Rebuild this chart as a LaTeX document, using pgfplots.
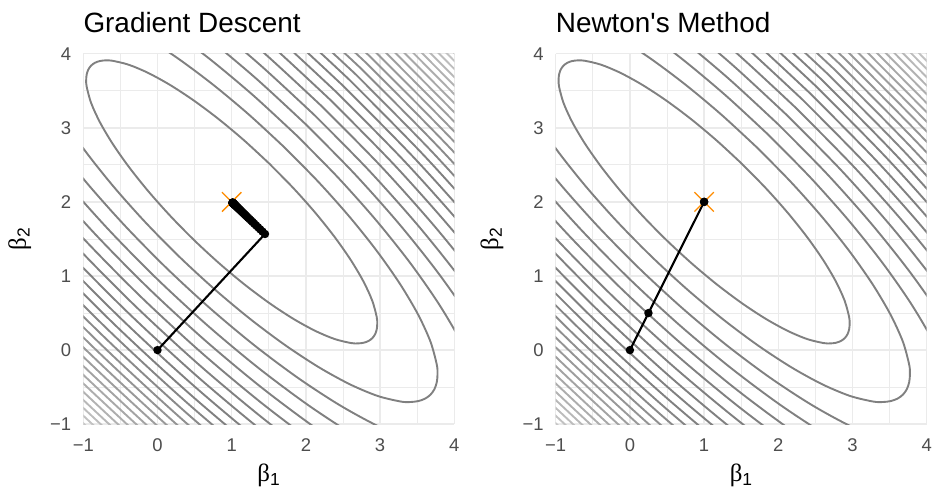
\documentclass[border=0pt]{standalone}
\usepackage{fontspec}
\setmainfont{Liberation Sans}
\newfontfamily\titlefont{Liberation Sans}
\newfontfamily\seriffont{Liberation Serif}
\usepackage{pgfplots}
\usepackage{pgfplotstable}
\pgfplotsset{compat=1.18}
\definecolor{tickgray}{HTML}{4D4D4D}
\definecolor{gridgray}{HTML}{EBEBEB}
\definecolor{xorange}{HTML}{FF8C00}

% level-1 contour of the quadratic, offsets from the minimum (1,2)
\pgfplotstableread{
dx dy
0.5035 0.5193
0.1667 0.8305
-0.1753 1.1167
-0.5119 1.3688
-0.8329 1.5794
-1.1286 1.7419
-1.3900 1.8516
-1.6093 1.9050
-1.7009 1.9099
-1.7796 1.9005
-1.8447 1.8765
-1.8958 1.8382
-1.9325 1.7859
-1.9544 1.7201
-1.9615 1.6411
-1.9537 1.5498
-1.8936 1.3322
-1.7758 1.0743
-1.6043 0.7838
-1.3839 0.4694
-1.1215 0.1407
-0.8249 -0.1923
-0.5035 -0.5193
-0.1667 -0.8305
0.1753 -1.1167
0.5119 -1.3688
0.8329 -1.5794
1.1286 -1.7419
1.3900 -1.8516
1.6093 -1.9050
1.7009 -1.9099
1.7796 -1.9005
1.8447 -1.8765
1.8958 -1.8382
1.9325 -1.7859
1.9544 -1.7201
1.9615 -1.6411
1.9537 -1.5498
1.8936 -1.3322
1.7758 -1.0743
1.6043 -0.7838
1.3839 -0.4694
1.1215 -0.1407
0.8249 0.1923
0.5035 0.5193
}\unitell

\newcommand\cont[2]{\addplot[draw=black!#2, line width=1.9bp, smooth, no markers, forget plot] table[x expr={1+#1*\thisrow{dx}}, y expr={2+#1*\thisrow{dy}}] {\unitell};}
\newcommand\allcont{%
\cont{1}{50}\cont{1.4142}{50}\cont{1.7321}{50}\cont{2}{50}\cont{2.2361}{50}%
\cont{2.4495}{50}\cont{2.6458}{50}\cont{2.8284}{50}\cont{3}{50}\cont{3.1623}{50}%
\cont{3.3166}{48}\cont{3.4641}{46}\cont{3.6056}{44}\cont{3.7417}{42}\cont{3.8730}{40}%
\cont{4}{38}\cont{4.1231}{36}\cont{4.2426}{34}\cont{4.3589}{32}\cont{4.4721}{30}%
\cont{4.5826}{28}\cont{4.6904}{26}\cont{4.7958}{24}\cont{4.8990}{22}}

\pgfplotsset{panel/.style={
  scale only axis, width=371bp, height=370.5bp,
  xmin=-1, xmax=4, ymin=-1, ymax=4,
  xtick={-1,0,1,2,3,4}, ytick={-1,0,1,2,3,4},
  xticklabels={−1,0,1,2,3,4}, yticklabels={−1,0,1,2,3,4},
  minor tick num=1,
  grid=both,
  major grid style={gridgray, line width=1.5bp},
  minor grid style={gridgray, line width=0.8bp},
  major tick length=0pt, minor tick length=0pt,
  axis line style={draw=none},
  tick label style={font=\fontsize{18.5}{18.5}\selectfont, text=tickgray},
  xticklabel style={anchor=north, inner sep=0pt, yshift=-14.5bp},
  yticklabel style={anchor=east, inner sep=0pt, xshift=-12bp},
}}

\begin{document}
\begin{tikzpicture}
\path[use as bounding box] (0bp,0bp) rectangle (936bp,491bp);

\begin{axis}[panel, at={(83.3bp,66.8bp)}, anchor=south west]
\allcont
\addplot[only marks, mark=x, mark size=13.7bp, color=xorange, mark options={line width=1.3bp}] coordinates {(1,2)};
\addplot[black, line width=2.1bp, mark=*, mark size=3.1bp] coordinates {
(0,0) (1.4485,1.5668) (1.4149,1.5993) (1.3837,1.6294) (1.3550,1.6571) (1.3283,1.6829)
(1.3037,1.7066) (1.2809,1.7286) (1.2599,1.7490) (1.2404,1.7678) (1.2224,1.7852)
(1.2057,1.8013) (1.1903,1.8162) (1.1760,1.8300) (1.1628,1.8427) (1.1506,1.8545)
(1.1393,1.8654) (1.1289,1.8755) (1.1192,1.8849) (1.1102,1.8935) (1.1020,1.9015)
(1.0943,1.9089) (1.0873,1.9157) (1.0807,1.9220) (1.0747,1.9279) (1.0691,1.9333)
(1.0639,1.9383) (1.0591,1.9429) (1.0547,1.9472) (1.0505,1.9512) (1.0468,1.9548)
(1.0433,1.9582) (1.0400,1.9614) (1.0370,1.9643) (1.0343,1.9669) (1.0317,1.9694)
(1.0293,1.9717) (1.0271,1.9738) (1.0251,1.9758) (1.0232,1.9776) (1.0214,1.9793)
(1.0198,1.9809) (1.0183,1.9823) (1.0170,1.9836) (1.0157,1.9848) (1.0145,1.9860)
(1.0134,1.9870) (1.0124,1.9880) (1.0115,1.9889) (1.0106,1.9897) (1.0098,1.9905)
};
\end{axis}

\begin{axis}[panel, at={(555.7bp,66.8bp)}, anchor=south west]
\allcont
\addplot[only marks, mark=x, mark size=13.7bp, color=xorange, mark options={line width=1.3bp}] coordinates {(1,2)};
\addplot[black, line width=2.1bp, mark=*, mark size=3.1bp] coordinates {
(0,0) (0.25,0.5) (1,2) (1,2)
};
\end{axis}

\node[anchor=base west, inner sep=0pt, font=\titlefont\fontsize{28}{28}\selectfont] at (83.3bp,458.3bp) {Gradient Descent};
\node[anchor=base west, inner sep=0pt, font=\titlefont\fontsize{28}{28}\selectfont] at (555.7bp,458.3bp) {Newton's Method};

\node[anchor=base, inner sep=0pt, font=\fontsize{25}{25}\selectfont] at (268.8bp,9.5bp) {{\seriffont β}\textsubscript{1}};
\node[anchor=base, inner sep=0pt, font=\fontsize{25}{25}\selectfont] at (741.2bp,9.5bp) {{\seriffont β}\textsubscript{1}};
\node[anchor=base, inner sep=0pt, rotate=90, font=\fontsize{25}{25}\selectfont] at (25.8bp,251.9bp) {{\seriffont β}\textsubscript{2}};
\node[anchor=base, inner sep=0pt, rotate=90, font=\fontsize{25}{25}\selectfont] at (498.2bp,251.9bp) {{\seriffont β}\textsubscript{2}};
\end{tikzpicture}
\end{document}
